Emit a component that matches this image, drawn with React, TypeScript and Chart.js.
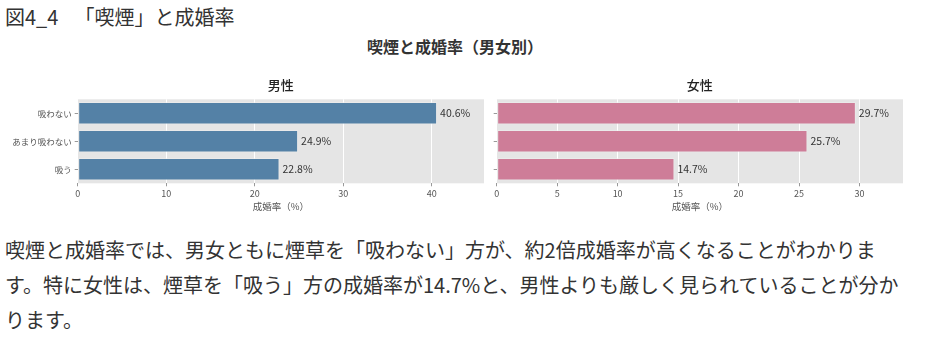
import React, { useEffect, useRef } from "react";
import { Chart, registerables } from "chart.js";

Chart.register(...registerables);

// ---- data ----
const categories = ["吸わない", "あまり吸わない", "吸う"];
const maleRates = [40.6, 24.9, 22.8];
const femaleRates = [29.7, 25.7, 14.7];
const maleAxisMax = 45.9;
const femaleAxisMax = 33.6;
const maleStep = 10;
const femaleStep = 5;
const headerCode = "図4_4";
const headerTitle = "「喫煙」と成婚率";
const mainTitle = "喫煙と成婚率（男女別）";
const maleTitle = "男性";
const femaleTitle = "女性";
const xAxisTitle = "成婚率（%）";
const paragraphLines = [
  "喫煙と成婚率では、男女ともに煙草を「吸わない」方が、約2倍成婚率が高くなることがわかりま",
  "す。特に女性は、煙草を「吸う」方の成婚率が14.7%と、男性よりも厳しく見られていることが分か",
  "ります。",
];

const FONT = '"Noto Sans CJK JP", "Noto Sans", sans-serif';
const CANVAS_TOP = 60;
const CANVAS_H = 156;
const PLOT_TOP = 39.3;
const PLOT_BOTTOM = 123.3;

const bgPlugin = {
  id: "plotBg",
  beforeDraw(chart: any) {
    const { ctx, chartArea } = chart;
    ctx.save();
    ctx.fillStyle = "#e5e5e5";
    ctx.fillRect(chartArea.left, chartArea.top, chartArea.right - chartArea.left, chartArea.bottom - chartArea.top);
    ctx.restore();
  },
};

const makeTitlePlugin = (text: string) => ({
  id: "subTitle",
  afterDraw(chart: any) {
    const { ctx, chartArea } = chart;
    ctx.save();
    ctx.fillStyle = "#222";
    ctx.font = `500 13px ${FONT}`;
    ctx.textAlign = "center";
    ctx.textBaseline = "middle";
    ctx.fillText(text, (chartArea.left + chartArea.right) / 2, 25);
    ctx.restore();
  },
});

const labelPlugin = {
  id: "valueLabels",
  afterDatasetsDraw(chart: any) {
    const { ctx } = chart;
    const meta = chart.getDatasetMeta(0);
    const values = chart.data.datasets[0].data as number[];
    ctx.save();
    ctx.fillStyle = "#333";
    ctx.font = `10.5px ${FONT}`;
    ctx.textAlign = "left";
    ctx.textBaseline = "middle";
    meta.data.forEach((bar: any, i: number) => {
      ctx.fillText(`${values[i].toFixed(1)}%`, bar.x + 3, bar.y);
    });
    ctx.restore();
  },
};

function buildChart(canvas: HTMLCanvasElement, cfg: any) {
  return new Chart(canvas, {
    type: "bar",
    data: {
      labels: categories,
      datasets: [
        {
          data: cfg.values,
          backgroundColor: cfg.color,
          borderColor: "rgba(238,238,238,0.55)",
          borderWidth: 1,
          borderSkipped: false,
          categoryPercentage: 0.8,
          barPercentage: 1,
        },
      ],
    },
    options: {
      indexAxis: "y",
      responsive: false,
      maintainAspectRatio: false,
      animation: false,
      layout: { padding: { top: PLOT_TOP, right: cfg.padRight, left: 0, bottom: 0 } },
      plugins: {
        legend: { display: false },
        title: { display: false },
        tooltip: { enabled: false },
      },
      scales: {
        x: {
          type: "linear",
          min: 0,
          max: cfg.max,
          border: { display: false },
          grid: { color: "#ffffff", lineWidth: 1, drawTicks: true, tickLength: 3, tickColor: "#999" },
          ticks: {
            stepSize: cfg.step,
            includeBounds: false,
            color: "#555",
            font: { family: FONT, size: 9 },
            padding: 2,
            maxRotation: 0,
          },
          title: {
            display: true,
            text: xAxisTitle,
            color: "#555",
            font: { family: FONT, size: 9.5 },
            padding: { top: 0, bottom: 4 },
          },
          afterFit: (s: any) => {
            s.height = CANVAS_H - PLOT_BOTTOM;
          },
        },
        y: {
          type: "category",
          border: { display: false },
          grid: { drawOnChartArea: false, offset: false, drawTicks: true, tickLength: 3, tickColor: "#999" },
          ticks: {
            display: cfg.showLabels,
            color: "#555",
            font: { family: FONT, size: 8.5 },
            padding: 3,
          },
          afterFit: (s: any) => {
            s.width = cfg.yWidth;
          },
        },
      },
    },
    plugins: [bgPlugin, makeTitlePlugin(cfg.title), labelPlugin],
  } as any);
}

export default function App() {
  const leftRef = useRef<HTMLCanvasElement>(null);
  const rightRef = useRef<HTMLCanvasElement>(null);

  useEffect(() => {
    const left = buildChart(leftRef.current!, {
      values: maleRates,
      color: "#5481a6",
      max: maleAxisMax,
      step: maleStep,
      showLabels: true,
      yWidth: 77.7,
      padRight: 4,
      title: maleTitle,
    });
    const right = buildChart(rightRef.current!, {
      values: femaleRates,
      color: "#ce7d98",
      max: femaleAxisMax,
      step: femaleStep,
      showLabels: false,
      yWidth: 10.7,
      padRight: 30,
      title: femaleTitle,
    });
    return () => {
      left.destroy();
      right.destroy();
    };
  }, []);

  return (
    <div style={{ position: "absolute", left: 0, top: 0, width: 933, height: 355, background: "#fff", fontFamily: FONT, color: "#333" }}>
      <div style={{ position: "absolute", left: 5, top: 4, fontSize: 20, lineHeight: "26px", whiteSpace: "nowrap" }}>
        {headerCode}
        <span style={{ marginLeft: 6 }}>{"　" + headerTitle}</span>
      </div>
      <div style={{ position: "absolute", left: 0, top: 36, width: 910, textAlign: "center", fontSize: 16, fontWeight: 700, lineHeight: "20px", whiteSpace: "nowrap" }}>
        {mainTitle}
      </div>
      <canvas ref={leftRef} width={488} height={CANVAS_H} style={{ position: "absolute", left: 0, top: CANVAS_TOP, width: 488, height: CANVAS_H }} />
      <canvas ref={rightRef} width={447} height={CANVAS_H} style={{ position: "absolute", left: 486, top: CANVAS_TOP, width: 447, height: CANVAS_H }} />
      {paragraphLines.map((line, i) => (
        <div key={i} style={{ position: "absolute", left: 5, top: 231.5 + i * 35, fontSize: 20, lineHeight: "35px", whiteSpace: "nowrap" }}>
          {line}
        </div>
      ))}
    </div>
  );
}
